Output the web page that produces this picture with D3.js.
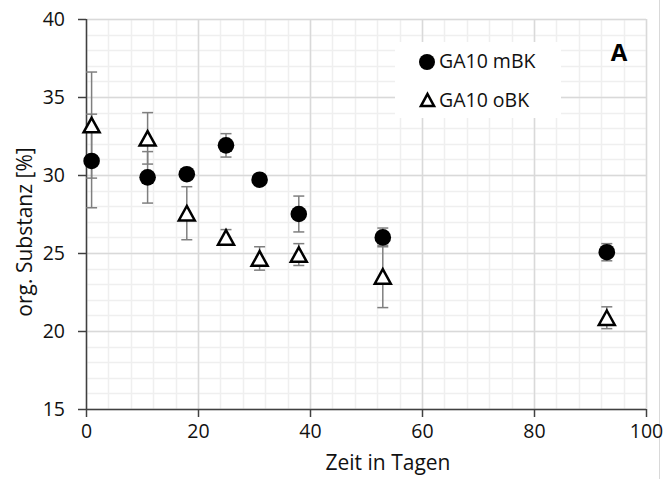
<!DOCTYPE html>
<html>
<head>
<meta charset="utf-8">
<script src="https://cdn.jsdelivr.net/npm/d3@7"></script>
<style>
  html, body { margin: 0; padding: 0; background: #fff; }
  svg { display: block; font-family: "Open Sans", sans-serif; }
</style>
</head>
<body>
<svg id="chart" width="664" height="479"></svg>
<script>
// Sampling days
const days = [1, 11, 18, 25, 31, 38, 53, 93];
// GA10 mBK: organic matter [%] and its error
const mBK = [30.9, 29.85, 30.05, 31.9, 29.7, 27.5, 26.0, 25.05];
const mBKErr = [3.0, 1.65, 0.3, 0.75, 0.3, 1.15, 0.6, 0.55];
// GA10 oBK: organic matter [%] and its error
const oBK = [33.2, 32.35, 27.55, 26.0, 24.65, 24.9, 23.5, 20.85];
const oBKErr = [3.4, 1.65, 1.7, 0.5, 0.75, 0.7, 2.0, 0.7];

const xTicks = [0, 20, 40, 60, 80, 100];
const yTicks = [15, 20, 25, 30, 35, 40];
const seriesNames = ["GA10 mBK", "GA10 oBK"];

const svg = d3.select("#chart");
const x = d3.scaleLinear().domain([0, 100]).range([86, 646]);
const y = d3.scaleLinear().domain([15, 40]).range([409, 19]);

// chart frame edge on the right
svg.append("line").attr("x1", 659.5).attr("x2", 659.5).attr("y1", 0).attr("y2", 479)
  .attr("stroke", "#d9d9d9").attr("stroke-width", 1);

// minor grid
const grid = svg.append("g");
grid.selectAll(".vmin").data(d3.range(0, 101, 4)).join("line")
  .attr("x1", d => Math.round(x(d)) + 0.5).attr("x2", d => Math.round(x(d)) + 0.5)
  .attr("y1", y(40)).attr("y2", y(15))
  .attr("stroke", "#efefef").attr("stroke-width", 1.5);
grid.selectAll(".hmin").data(d3.range(15, 41, 1)).join("line")
  .attr("y1", d => Math.round(y(d)) + 0.5).attr("y2", d => Math.round(y(d)) + 0.5)
  .attr("x1", x(0)).attr("x2", x(100))
  .attr("stroke", "#efefef").attr("stroke-width", 1.5);
// major grid
grid.selectAll(".vmaj").data(xTicks).join("line")
  .attr("x1", d => Math.round(x(d)) + 0.5).attr("x2", d => Math.round(x(d)) + 0.5)
  .attr("y1", y(40)).attr("y2", y(15))
  .attr("stroke", "#d9d9d9").attr("stroke-width", 1.5);
grid.selectAll(".hmaj").data(yTicks).join("line")
  .attr("y1", d => Math.round(y(d)) + 0.5).attr("y2", d => Math.round(y(d)) + 0.5)
  .attr("x1", x(0)).attr("x2", x(100))
  .attr("stroke", "#d9d9d9").attr("stroke-width", 1.5);

// axes
const xAxis = d3.axisBottom(x).tickValues(xTicks).tickSize(8).tickPadding(7).tickFormat(d3.format("d"));
const yAxis = d3.axisLeft(y).tickValues(yTicks).tickSize(8).tickPadding(13).tickFormat(d3.format("d"));
const gx = svg.append("g").attr("transform", "translate(0,409)").call(xAxis);
const gy = svg.append("g").attr("transform", "translate(86,0)").call(yAxis);
[gx, gy].forEach(g => {
  g.select(".domain").attr("stroke", "#404040").attr("stroke-width", 1.5);
  g.selectAll(".tick line").attr("stroke", "#404040").attr("stroke-width", 1.5);
  g.selectAll(".tick text").attr("fill", "#111").style("font-size", "19.5px")
    .style("font-family", "'Open Sans', sans-serif");
});
gx.select(".domain").attr("d", "M86,0.5H646");
gy.select(".domain").attr("d", "M0.5,19V409");

// axis titles
svg.append("text").attr("x", 388).attr("y", 470).attr("text-anchor", "middle")
  .style("font-size", "21px").attr("fill", "#111").text("Zeit in Tagen");
svg.append("text").attr("transform", "translate(32,232) rotate(-90)").attr("text-anchor", "middle")
  .style("font-size", "21px").attr("fill", "#111").text("org. Substanz [%]");

// error bars
function errorBars(vals, errs) {
  const g = svg.append("g").attr("stroke", "#7f7f7f").attr("stroke-width", 1.5);
  days.forEach((d, i) => {
    const cx = x(d), lo = y(vals[i] - errs[i]), hi = y(vals[i] + errs[i]);
    g.append("line").attr("x1", cx).attr("x2", cx).attr("y1", lo).attr("y2", hi);
    g.append("line").attr("x1", cx - 5.5).attr("x2", cx + 5.5).attr("y1", hi).attr("y2", hi);
    g.append("line").attr("x1", cx - 5.5).attr("x2", cx + 5.5).attr("y1", lo).attr("y2", lo);
  });
}
errorBars(mBK, mBKErr);
errorBars(oBK, oBKErr);

const tri = (cx, cy, w, h) => `M${cx},${cy - h / 2}L${cx + w / 2},${cy + h / 2}L${cx - w / 2},${cy + h / 2}Z`;

// markers
svg.append("g").selectAll("circle").data(days).join("circle")
  .attr("cx", d => x(d)).attr("cy", (d, i) => y(mBK[i])).attr("r", 8.3).attr("fill", "#000");
svg.append("g").selectAll("path").data(days).join("path")
  .attr("d", (d, i) => tri(x(d), y(oBK[i]), 16, 14.5))
  .attr("fill", "#fff").attr("stroke", "#000").attr("stroke-width", 2.5).attr("stroke-linejoin", "miter");

// legend
const lg = svg.append("g");
lg.append("rect").attr("x", 395).attr("y", 42).attr("width", 166).attr("height", 76).attr("fill", "#fff");
lg.append("circle").attr("cx", 427).attr("cy", 62).attr("r", 8).attr("fill", "#000");
lg.append("path").attr("d", tri(427.5, 100, 13, 12)).attr("fill", "#fff")
  .attr("stroke", "#000").attr("stroke-width", 2.6);
lg.selectAll("text").data(seriesNames).join("text")
  .attr("x", 439).attr("y", (d, i) => 68 + i * 39)
  .style("font-size", "19.5px").attr("fill", "#111").text(d => d);

// panel letter
svg.append("text").attr("x", 619).attr("y", 61).attr("text-anchor", "middle")
  .style("font-size", "24px").style("font-weight", "bold").attr("fill", "#000").text("A");
</script>
</body>
</html>
